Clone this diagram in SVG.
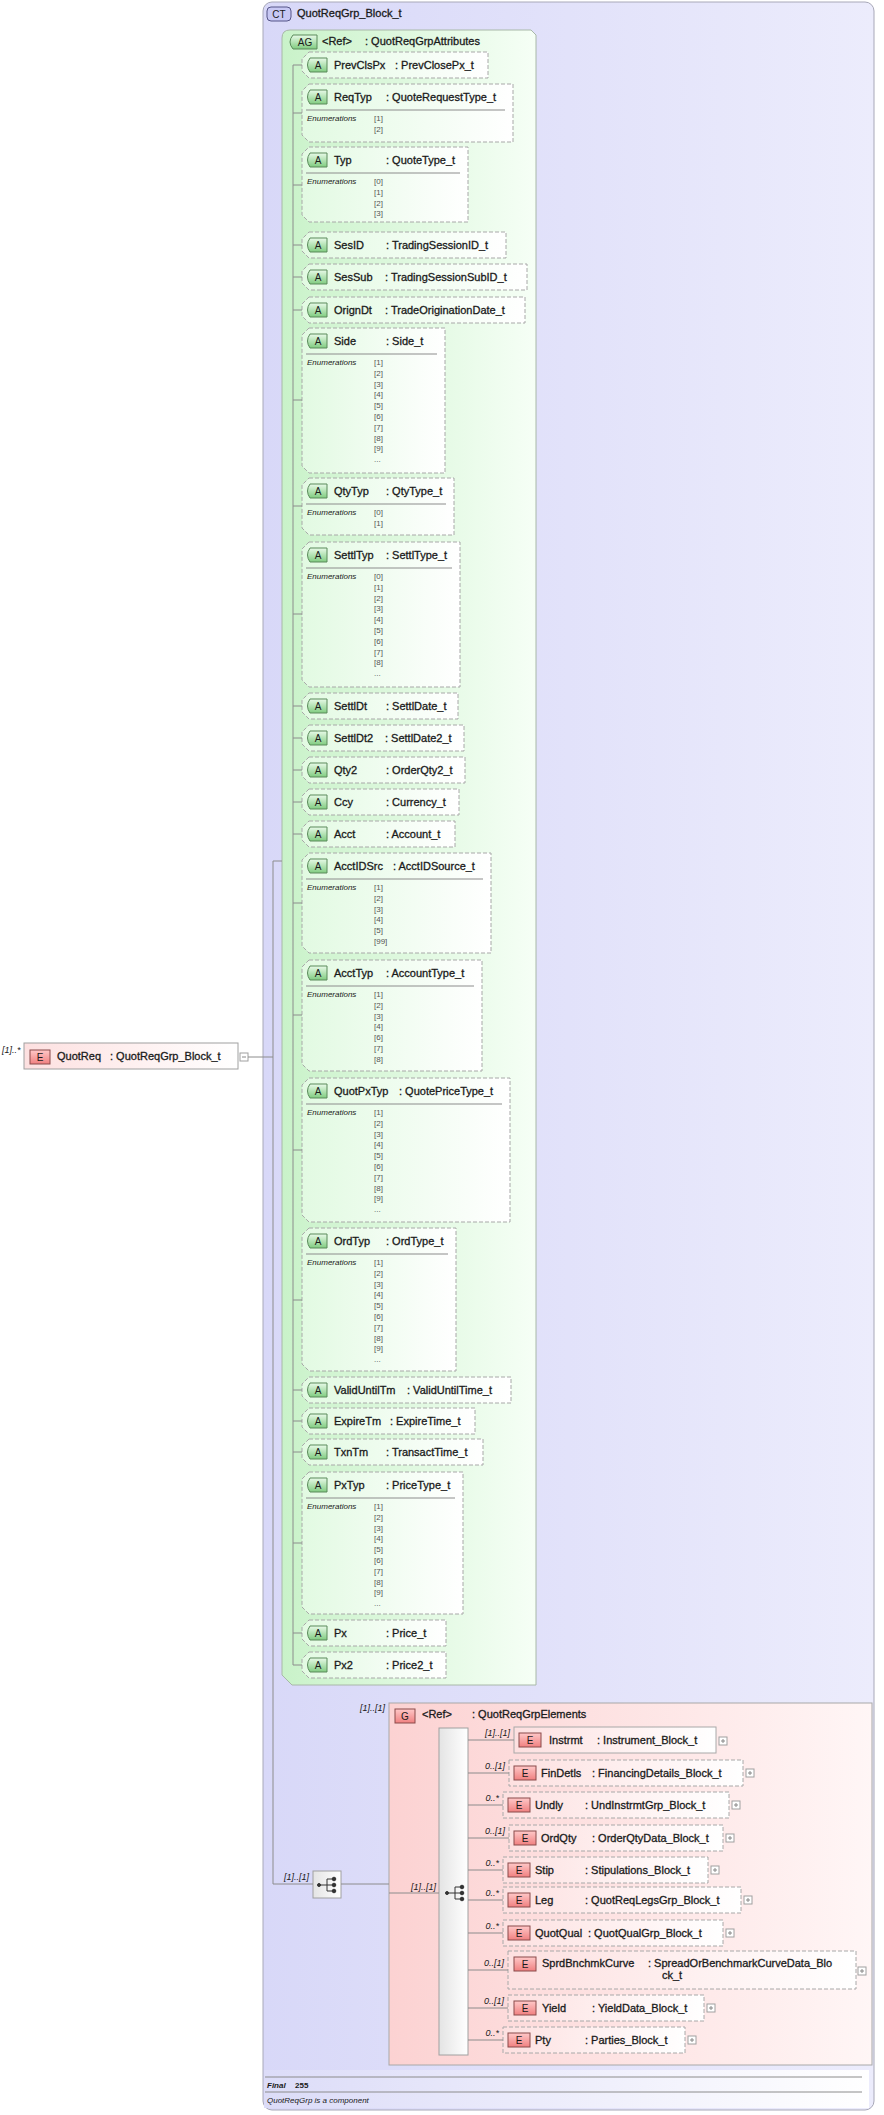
<svg xmlns="http://www.w3.org/2000/svg" width="884" height="2115" viewBox="0 0 884 2115">
<defs>
<linearGradient id="ctg" x1="0" x2="1" y1="0" y2="0"><stop offset="0" stop-color="#d8d8f8"/><stop offset="1" stop-color="#ececfc"/></linearGradient>
<linearGradient id="ftg" x1="0" x2="1"><stop offset="0" stop-color="#dcdcf8"/><stop offset="1" stop-color="#ffffff"/></linearGradient>
<linearGradient id="agg" x1="0" x2="1"><stop offset="0" stop-color="#c9f2c9"/><stop offset="1" stop-color="#f6fff6"/></linearGradient>
<linearGradient id="ag2" x1="0" x2="1"><stop offset="0" stop-color="#e2fae2"/><stop offset="1" stop-color="#ffffff"/></linearGradient>
<linearGradient id="gg" x1="0" x2="1"><stop offset="0" stop-color="#fcd2d2"/><stop offset="1" stop-color="#fff6f6"/></linearGradient>
<linearGradient id="eg" x1="0" x2="1"><stop offset="0" stop-color="#fde0e0"/><stop offset="1" stop-color="#ffffff"/></linearGradient>
<linearGradient id="eb" x1="0" x2="0" y1="0" y2="1"><stop offset="0" stop-color="#ffc8c8"/><stop offset="1" stop-color="#f08080"/></linearGradient>
<linearGradient id="ab" x1="0" x2="0" y1="0" y2="1"><stop offset="0" stop-color="#e8fae8"/><stop offset="1" stop-color="#80cc80"/></linearGradient>
<linearGradient id="sq" x1="0" x2="1"><stop offset="0" stop-color="#e4e4e4"/><stop offset="1" stop-color="#ffffff"/></linearGradient>
</defs>
<style>
text{font-family:"Liberation Sans",Arial,sans-serif;font-size:11px;fill:#1a1a1a;stroke:#1a1a1a;stroke-width:0.3}
.it{font-style:italic;font-size:9px;stroke:none}
.en{font-size:8px;fill:#555;stroke:none}
.eh{font-style:italic;font-size:8px;stroke:none}
.ft{font-size:8px;stroke:none}
.ln{stroke:#8c8c8c;stroke-width:1;fill:none}
.at{fill:url(#ag2);stroke:#a8a8a8;stroke-dasharray:4,2}
.sep{stroke:#8c8c8c}
.ab{fill:url(#ab);stroke:#5a8a5a}
.eb{fill:url(#eb);stroke:#8a4a4a}
.el{fill:url(#eg);stroke:#a8a8a8}
.eld{fill:url(#eg);stroke:#a8a8a8;stroke-dasharray:4,2}
.pl{fill:#fff;stroke:#a0a0a0}
.bd{font-size:10px;text-anchor:middle;stroke:none}
</style>

<g id="ct">
<rect x="263" y="2" width="611" height="2108" rx="9" fill="url(#ctg)" stroke="#a8a8b8"/>
<rect x="267" y="7" width="24" height="14" rx="4" fill="#c8c8f4" stroke="#555588"/>
<text x="279" y="18" class="bd">CT</text>
<text x="297" y="17">QuotReqGrp_Block_t</text>
<rect x="264" y="2070" width="605" height="38" fill="url(#ftg)"/>
<line x1="265" y1="2077" x2="862" y2="2077" class="sep"/>
<line x1="265" y1="2092" x2="862" y2="2092" class="sep"/>
<text x="267" y="2088" class="ft" style="font-style:italic;font-weight:bold">Final</text>
<text x="295" y="2088" class="ft" style="font-weight:bold">255</text>
<text x="267" y="2103" class="ft" style="font-style:italic">QuotReqGrp is a component</text>
</g>

<g id="quotreq">
<text x="2" y="1053" class="it">[1]..*</text>
<rect x="24" y="1043" width="214" height="26" fill="url(#eg)" stroke="#a0a0a0"/>
<rect x="30" y="1050" width="20" height="14" class="eb"/>
<text x="40" y="1061" class="bd">E</text>
<text x="57" y="1060">QuotReq</text>
<text x="110" y="1060">: QuotReqGrp_Block_t</text>
<rect x="240" y="1053" width="8" height="8" class="pl"/>
<line x1="242" y1="1057" x2="246" y2="1057" stroke="#888"/>
</g>

<g id="ag">
<path d="M290,30 H531 L536,35 V1685 H292 L282,1675 V38 Q282,30 290,30 Z" fill="url(#agg)" stroke="#a8b8a8"/>
<path d="M293,35 h24 v14 h-24 q-6,-7 0,-14 z" class="ab"/>
<text x="305" y="46" class="bd">AG</text>
<text x="322" y="45">&lt;Ref&gt;</text>
<text x="365" y="45">: QuotReqGrpAttributes</text>
</g>

<g id="attrs">
<path d="M309,52 H488 V78 H309 L302,71 V59 Z" class="at"/><path d="M310,58 h17 v14 h-17 q-5,-7 0,-14 z" class="ab"/><text x="318" y="69" class="bd">A</text><text x="334" y="69">PrevClsPx</text><text x="395" y="69">: PrevClosePx_t</text>

<path d="M309,84 H513 V142 H309 L302,135 V91 Z" class="at"/><path d="M310,90 h17 v14 h-17 q-5,-7 0,-14 z" class="ab"/><text x="318" y="101" class="bd">A</text><text x="334" y="101">ReqTyp</text><text x="386" y="101">: QuoteRequestType_t</text><line x1="306" y1="110" x2="505" y2="110" class="sep"/><text x="307" y="121" class="eh">Enumerations</text><text x="374" y="121" class="en">[1]<tspan x="374" dy="10.8">[2]</tspan></text>

<path d="M309,147 H468 V222 H309 L302,215 V154 Z" class="at"/><path d="M310,153 h17 v14 h-17 q-5,-7 0,-14 z" class="ab"/><text x="318" y="164" class="bd">A</text><text x="334" y="164">Typ</text><text x="386" y="164">: QuoteType_t</text><line x1="306" y1="173" x2="460" y2="173" class="sep"/><text x="307" y="184" class="eh">Enumerations</text><text x="374" y="184" class="en">[0]<tspan x="374" dy="10.8">[1]</tspan><tspan x="374" dy="10.8">[2]</tspan><tspan x="374" dy="10.8">[3]</tspan></text>

<path d="M309,232 H506 V258 H309 L302,251 V239 Z" class="at"/><path d="M310,238 h17 v14 h-17 q-5,-7 0,-14 z" class="ab"/><text x="318" y="249" class="bd">A</text><text x="334" y="249">SesID</text><text x="386" y="249">: TradingSessionID_t</text>

<path d="M309,264 H527 V290 H309 L302,283 V271 Z" class="at"/><path d="M310,270 h17 v14 h-17 q-5,-7 0,-14 z" class="ab"/><text x="318" y="281" class="bd">A</text><text x="334" y="281">SesSub</text><text x="385" y="281">: TradingSessionSubID_t</text>

<path d="M309,297 H525 V323 H309 L302,316 V304 Z" class="at"/><path d="M310,303 h17 v14 h-17 q-5,-7 0,-14 z" class="ab"/><text x="318" y="314" class="bd">A</text><text x="334" y="314">OrignDt</text><text x="385" y="314">: TradeOriginationDate_t</text>

<path d="M309,328 H445 V473 H309 L302,466 V335 Z" class="at"/><path d="M310,334 h17 v14 h-17 q-5,-7 0,-14 z" class="ab"/><text x="318" y="345" class="bd">A</text><text x="334" y="345">Side</text><text x="386" y="345">: Side_t</text><line x1="306" y1="354" x2="437" y2="354" class="sep"/><text x="307" y="365" class="eh">Enumerations</text><text x="374" y="365" class="en">[1]<tspan x="374" dy="10.8">[2]</tspan><tspan x="374" dy="10.8">[3]</tspan><tspan x="374" dy="10.8">[4]</tspan><tspan x="374" dy="10.8">[5]</tspan><tspan x="374" dy="10.8">[6]</tspan><tspan x="374" dy="10.8">[7]</tspan><tspan x="374" dy="10.8">[8]</tspan><tspan x="374" dy="10.8">[9]</tspan><tspan x="374" dy="10.8">...</tspan></text>

<path d="M309,478 H454 V535 H309 L302,528 V485 Z" class="at"/><path d="M310,484 h17 v14 h-17 q-5,-7 0,-14 z" class="ab"/><text x="318" y="495" class="bd">A</text><text x="334" y="495">QtyTyp</text><text x="386" y="495">: QtyType_t</text><line x1="306" y1="504" x2="446" y2="504" class="sep"/><text x="307" y="515" class="eh">Enumerations</text><text x="374" y="515" class="en">[0]<tspan x="374" dy="10.8">[1]</tspan></text>

<path d="M309,542 H460 V687 H309 L302,680 V549 Z" class="at"/><path d="M310,548 h17 v14 h-17 q-5,-7 0,-14 z" class="ab"/><text x="318" y="559" class="bd">A</text><text x="334" y="559">SettlTyp</text><text x="386" y="559">: SettlType_t</text><line x1="306" y1="568" x2="452" y2="568" class="sep"/><text x="307" y="579" class="eh">Enumerations</text><text x="374" y="579" class="en">[0]<tspan x="374" dy="10.8">[1]</tspan><tspan x="374" dy="10.8">[2]</tspan><tspan x="374" dy="10.8">[3]</tspan><tspan x="374" dy="10.8">[4]</tspan><tspan x="374" dy="10.8">[5]</tspan><tspan x="374" dy="10.8">[6]</tspan><tspan x="374" dy="10.8">[7]</tspan><tspan x="374" dy="10.8">[8]</tspan><tspan x="374" dy="10.8">...</tspan></text>

<path d="M309,693 H458 V719 H309 L302,712 V700 Z" class="at"/><path d="M310,699 h17 v14 h-17 q-5,-7 0,-14 z" class="ab"/><text x="318" y="710" class="bd">A</text><text x="334" y="710">SettlDt</text><text x="386" y="710">: SettlDate_t</text>

<path d="M309,725 H464 V751 H309 L302,744 V732 Z" class="at"/><path d="M310,731 h17 v14 h-17 q-5,-7 0,-14 z" class="ab"/><text x="318" y="742" class="bd">A</text><text x="334" y="742">SettlDt2</text><text x="385" y="742">: SettlDate2_t</text>

<path d="M309,757 H465 V783 H309 L302,776 V764 Z" class="at"/><path d="M310,763 h17 v14 h-17 q-5,-7 0,-14 z" class="ab"/><text x="318" y="774" class="bd">A</text><text x="334" y="774">Qty2</text><text x="386" y="774">: OrderQty2_t</text>

<path d="M309,789 H459 V815 H309 L302,808 V796 Z" class="at"/><path d="M310,795 h17 v14 h-17 q-5,-7 0,-14 z" class="ab"/><text x="318" y="806" class="bd">A</text><text x="334" y="806">Ccy</text><text x="386" y="806">: Currency_t</text>

<path d="M309,821 H455 V847 H309 L302,840 V828 Z" class="at"/><path d="M310,827 h17 v14 h-17 q-5,-7 0,-14 z" class="ab"/><text x="318" y="838" class="bd">A</text><text x="334" y="838">Acct</text><text x="386" y="838">: Account_t</text>

<path d="M309,853 H491 V953 H309 L302,946 V860 Z" class="at"/><path d="M310,859 h17 v14 h-17 q-5,-7 0,-14 z" class="ab"/><text x="318" y="870" class="bd">A</text><text x="334" y="870">AcctIDSrc</text><text x="393" y="870">: AcctIDSource_t</text><line x1="306" y1="879" x2="483" y2="879" class="sep"/><text x="307" y="890" class="eh">Enumerations</text><text x="374" y="890" class="en">[1]<tspan x="374" dy="10.8">[2]</tspan><tspan x="374" dy="10.8">[3]</tspan><tspan x="374" dy="10.8">[4]</tspan><tspan x="374" dy="10.8">[5]</tspan><tspan x="374" dy="10.8">[99]</tspan></text>

<path d="M309,960 H482 V1071 H309 L302,1064 V967 Z" class="at"/><path d="M310,966 h17 v14 h-17 q-5,-7 0,-14 z" class="ab"/><text x="318" y="977" class="bd">A</text><text x="334" y="977">AcctTyp</text><text x="386" y="977">: AccountType_t</text><line x1="306" y1="986" x2="474" y2="986" class="sep"/><text x="307" y="997" class="eh">Enumerations</text><text x="374" y="997" class="en">[1]<tspan x="374" dy="10.8">[2]</tspan><tspan x="374" dy="10.8">[3]</tspan><tspan x="374" dy="10.8">[4]</tspan><tspan x="374" dy="10.8">[6]</tspan><tspan x="374" dy="10.8">[7]</tspan><tspan x="374" dy="10.8">[8]</tspan></text>

<path d="M309,1078 H510 V1222 H309 L302,1215 V1085 Z" class="at"/><path d="M310,1084 h17 v14 h-17 q-5,-7 0,-14 z" class="ab"/><text x="318" y="1095" class="bd">A</text><text x="334" y="1095">QuotPxTyp</text><text x="399" y="1095">: QuotePriceType_t</text><line x1="306" y1="1104" x2="502" y2="1104" class="sep"/><text x="307" y="1115" class="eh">Enumerations</text><text x="374" y="1115" class="en">[1]<tspan x="374" dy="10.8">[2]</tspan><tspan x="374" dy="10.8">[3]</tspan><tspan x="374" dy="10.8">[4]</tspan><tspan x="374" dy="10.8">[5]</tspan><tspan x="374" dy="10.8">[6]</tspan><tspan x="374" dy="10.8">[7]</tspan><tspan x="374" dy="10.8">[8]</tspan><tspan x="374" dy="10.8">[9]</tspan><tspan x="374" dy="10.8">...</tspan></text>

<path d="M309,1228 H456 V1371 H309 L302,1364 V1235 Z" class="at"/><path d="M310,1234 h17 v14 h-17 q-5,-7 0,-14 z" class="ab"/><text x="318" y="1245" class="bd">A</text><text x="334" y="1245">OrdTyp</text><text x="386" y="1245">: OrdType_t</text><line x1="306" y1="1254" x2="448" y2="1254" class="sep"/><text x="307" y="1265" class="eh">Enumerations</text><text x="374" y="1265" class="en">[1]<tspan x="374" dy="10.8">[2]</tspan><tspan x="374" dy="10.8">[3]</tspan><tspan x="374" dy="10.8">[4]</tspan><tspan x="374" dy="10.8">[5]</tspan><tspan x="374" dy="10.8">[6]</tspan><tspan x="374" dy="10.8">[7]</tspan><tspan x="374" dy="10.8">[8]</tspan><tspan x="374" dy="10.8">[9]</tspan><tspan x="374" dy="10.8">...</tspan></text>

<path d="M309,1377 H511 V1403 H309 L302,1396 V1384 Z" class="at"/><path d="M310,1383 h17 v14 h-17 q-5,-7 0,-14 z" class="ab"/><text x="318" y="1394" class="bd">A</text><text x="334" y="1394">ValidUntilTm</text><text x="407" y="1394">: ValidUntilTime_t</text>

<path d="M309,1408 H475 V1434 H309 L302,1427 V1415 Z" class="at"/><path d="M310,1414 h17 v14 h-17 q-5,-7 0,-14 z" class="ab"/><text x="318" y="1425" class="bd">A</text><text x="334" y="1425">ExpireTm</text><text x="390" y="1425">: ExpireTime_t</text>

<path d="M309,1439 H483 V1465 H309 L302,1458 V1446 Z" class="at"/><path d="M310,1445 h17 v14 h-17 q-5,-7 0,-14 z" class="ab"/><text x="318" y="1456" class="bd">A</text><text x="334" y="1456">TxnTm</text><text x="386" y="1456">: TransactTime_t</text>

<path d="M309,1472 H463 V1614 H309 L302,1607 V1479 Z" class="at"/><path d="M310,1478 h17 v14 h-17 q-5,-7 0,-14 z" class="ab"/><text x="318" y="1489" class="bd">A</text><text x="334" y="1489">PxTyp</text><text x="386" y="1489">: PriceType_t</text><line x1="306" y1="1498" x2="455" y2="1498" class="sep"/><text x="307" y="1509" class="eh">Enumerations</text><text x="374" y="1509" class="en">[1]<tspan x="374" dy="10.8">[2]</tspan><tspan x="374" dy="10.8">[3]</tspan><tspan x="374" dy="10.8">[4]</tspan><tspan x="374" dy="10.8">[5]</tspan><tspan x="374" dy="10.8">[6]</tspan><tspan x="374" dy="10.8">[7]</tspan><tspan x="374" dy="10.8">[8]</tspan><tspan x="374" dy="10.8">[9]</tspan><tspan x="374" dy="10.8">...</tspan></text>

<path d="M309,1620 H446 V1646 H309 L302,1639 V1627 Z" class="at"/><path d="M310,1626 h17 v14 h-17 q-5,-7 0,-14 z" class="ab"/><text x="318" y="1637" class="bd">A</text><text x="334" y="1637">Px</text><text x="386" y="1637">: Price_t</text>

<path d="M309,1652 H446 V1678 H309 L302,1671 V1659 Z" class="at"/><path d="M310,1658 h17 v14 h-17 q-5,-7 0,-14 z" class="ab"/><text x="318" y="1669" class="bd">A</text><text x="334" y="1669">Px2</text><text x="386" y="1669">: Price2_t</text>
</g>

<g id="grp">
<rect x="389" y="1703" width="483" height="362" fill="url(#gg)" stroke="#a8a8a8"/>
<text x="385" y="1711" class="it" text-anchor="end">[1]..[1]</text>
<rect x="395" y="1709" width="20" height="14" class="eb"/>
<text x="405" y="1720" class="bd">G</text>
<text x="422" y="1718">&lt;Ref&gt;</text>
<text x="472" y="1718">: QuotReqGrpElements</text>
</g>

<g id="seq1">
<rect x="313" y="1871" width="28" height="27" fill="url(#sq)" stroke="#a0a0a0"/>
<text x="309" y="1880" class="it" text-anchor="end">[1]..[1]</text>
<g fill="#333" stroke="#333"><circle cx="319" cy="1885" r="1.5"/><line x1="319" y1="1885" x2="327" y2="1885"/><line x1="327" y1="1879" x2="327" y2="1891"/><line x1="327" y1="1879" x2="333" y2="1879"/><line x1="327" y1="1885" x2="333" y2="1885"/><line x1="327" y1="1891" x2="333" y2="1891"/><circle cx="334" cy="1879" r="1.8"/><circle cx="334" cy="1885" r="1.8"/><circle cx="334" cy="1891" r="1.8"/></g>
</g>

<g id="seq2">
<rect x="439" y="1728" width="29" height="327" fill="url(#sq)" stroke="#a0a0a0"/>
<text x="436" y="1890" class="it" text-anchor="end">[1]..[1]</text>
<g fill="#333" stroke="#333"><circle cx="447" cy="1893" r="1.5"/><line x1="447" y1="1893" x2="455" y2="1893"/><line x1="455" y1="1887" x2="455" y2="1899"/><line x1="455" y1="1887" x2="461" y2="1887"/><line x1="455" y1="1893" x2="461" y2="1893"/><line x1="455" y1="1899" x2="461" y2="1899"/><circle cx="462" cy="1887" r="1.8"/><circle cx="462" cy="1893" r="1.8"/><circle cx="462" cy="1899" r="1.8"/></g>
</g>

<g id="children">
<rect x="514" y="1727" width="202" height="26" class="el"/><rect x="519" y="1733" width="22" height="14" class="eb"/><text x="530" y="1744" class="bd">E</text><text x="549" y="1744">Instrmt</text><text x="597" y="1744">: Instrument_Block_t</text><rect x="719" y="1737" width="8" height="8" class="pl"/><path d="M723,1739v4M721,1741h4" stroke="#888"/>
<text x="510" y="1736" class="it" text-anchor="end">[1]..[1]</text>

<rect x="509" y="1760" width="234" height="26" class="eld"/><rect x="514" y="1766" width="22" height="14" class="eb"/><text x="525" y="1777" class="bd">E</text><text x="541" y="1777">FinDetls</text><text x="592" y="1777">: FinancingDetails_Block_t</text><rect x="746" y="1769" width="8" height="8" class="pl"/><path d="M750,1771v4M748,1773h4" stroke="#888"/>
<text x="505" y="1769" class="it" text-anchor="end">0..[1]</text>

<rect x="503" y="1792" width="226" height="26" class="eld"/><rect x="508" y="1798" width="22" height="14" class="eb"/><text x="519" y="1809" class="bd">E</text><text x="535" y="1809">Undly</text><text x="585" y="1809">: UndInstrmtGrp_Block_t</text><rect x="732" y="1801" width="8" height="8" class="pl"/><path d="M736,1803v4M734,1805h4" stroke="#888"/>
<text x="499" y="1801" class="it" text-anchor="end">0..*</text>

<rect x="509" y="1825" width="214" height="26" class="eld"/><rect x="514" y="1831" width="22" height="14" class="eb"/><text x="525" y="1842" class="bd">E</text><text x="541" y="1842">OrdQty</text><text x="592" y="1842">: OrderQtyData_Block_t</text><rect x="726" y="1834" width="8" height="8" class="pl"/><path d="M730,1836v4M728,1838h4" stroke="#888"/>
<text x="505" y="1834" class="it" text-anchor="end">0..[1]</text>

<rect x="503" y="1857" width="205" height="26" class="eld"/><rect x="508" y="1863" width="22" height="14" class="eb"/><text x="519" y="1874" class="bd">E</text><text x="535" y="1874">Stip</text><text x="585" y="1874">: Stipulations_Block_t</text><rect x="711" y="1866" width="8" height="8" class="pl"/><path d="M715,1868v4M713,1870h4" stroke="#888"/>
<text x="499" y="1866" class="it" text-anchor="end">0..*</text>

<rect x="503" y="1887" width="238" height="26" class="eld"/><rect x="508" y="1893" width="22" height="14" class="eb"/><text x="519" y="1904" class="bd">E</text><text x="535" y="1904">Leg</text><text x="585" y="1904">: QuotReqLegsGrp_Block_t</text><rect x="744" y="1896" width="8" height="8" class="pl"/><path d="M748,1898v4M746,1900h4" stroke="#888"/>
<text x="499" y="1896" class="it" text-anchor="end">0..*</text>

<rect x="503" y="1920" width="220" height="26" class="eld"/><rect x="508" y="1926" width="22" height="14" class="eb"/><text x="519" y="1937" class="bd">E</text><text x="535" y="1937">QuotQual</text><text x="588" y="1937">: QuotQualGrp_Block_t</text><rect x="726" y="1929" width="8" height="8" class="pl"/><path d="M730,1931v4M728,1933h4" stroke="#888"/>
<text x="499" y="1929" class="it" text-anchor="end">0..*</text>

<rect x="508" y="1951" width="348" height="38" class="eld"/><rect x="514" y="1957" width="22" height="14" class="eb"/><text x="525" y="1968" class="bd">E</text><text x="542" y="1967">SprdBnchmkCurve</text><text x="648" y="1967">: SpreadOrBenchmarkCurveData_Blo</text><text x="662" y="1979">ck_t</text><rect x="858" y="1967" width="8" height="8" class="pl"/><path d="M862,1969v4M860,1971h4" stroke="#888"/>
<text x="504" y="1966" class="it" text-anchor="end">0..[1]</text>

<rect x="508" y="1995" width="196" height="26" class="eld"/><rect x="514" y="2001" width="22" height="14" class="eb"/><text x="525" y="2012" class="bd">E</text><text x="542" y="2012">Yield</text><text x="592" y="2012">: YieldData_Block_t</text><rect x="707" y="2004" width="8" height="8" class="pl"/><path d="M711,2006v4M709,2008h4" stroke="#888"/>
<text x="504" y="2004" class="it" text-anchor="end">0..[1]</text>

<rect x="503" y="2027" width="182" height="26" class="eld"/><rect x="508" y="2033" width="22" height="14" class="eb"/><text x="519" y="2044" class="bd">E</text><text x="535" y="2044">Pty</text><text x="585" y="2044">: Parties_Block_t</text><rect x="688" y="2036" width="8" height="8" class="pl"/><path d="M692,2038v4M690,2040h4" stroke="#888"/>
<text x="499" y="2036" class="it" text-anchor="end">0..*</text>
</g>

<g id="connectors" class="ln">
<path d="M248,1057 H273"/>
<path d="M273,861 V1884"/>
<path d="M273,861 H282"/>
<path d="M273,1884 H313"/>
<path d="M341,1884 H389"/>
<path d="M389,1893 H439"/>
<path d="M293,65 V1665"/>
<path d="M293,65 h9 M293,113 h9 M293,185 h9 M293,245 h9 M293,277 h9 M293,310 h9 M293,400 h9 M293,506 h9 M293,614 h9 M293,706 h9 M293,738 h9 M293,770 h9 M293,802 h9 M293,834 h9 M293,903 h9 M293,1015 h9 M293,1150 h9 M293,1300 h9 M293,1390 h9 M293,1421 h9 M293,1452 h9 M293,1543 h9 M293,1633 h9 M293,1665 h9"/>
<path d="M468,1740 H514 M468,1773 H509 M468,1805 H503 M468,1838 H509 M468,1870 H503 M468,1900 H503 M468,1933 H503 M468,1970 H508 M468,2008 H508 M468,2040 H503"/>
</g>
</svg>
